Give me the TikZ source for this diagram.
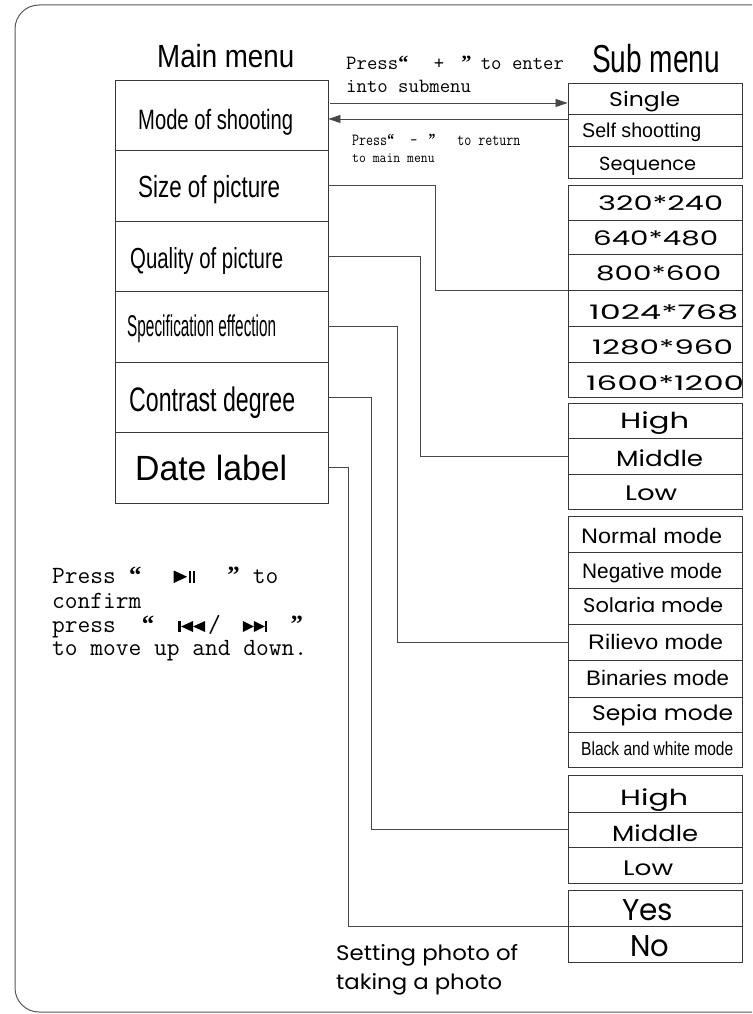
\documentclass[tikz,border=0pt]{standalone}
\usepackage{fontspec}
\usepackage{graphicx}
\usetikzlibrary{arrows.meta}
\newfontfamily\ars{Liberation Sans}
\newfontfamily\gth{Poppins}
\newfontfamily\lser{Liberation Serif}
\newcommand\fs[1]{\fontsize{#1}{#1}\selectfont}
\newcommand\oq{\makebox[0.525em]{\lser\bfseries “}}
\newcommand\cq{\makebox[0.525em]{\lser\bfseries ”}}
\newsavebox\fitbox
\newcommand\fitw[2]{\sbox\fitbox{#2}\pgfmathsetmacro\fitr{#1/\the\wd\fitbox}\scalebox{\fitr}[1]{\usebox\fitbox}}
\newcommand\symPP{\tikz[baseline=0pt,x=1pt,y=1pt]{\fill (0,0)--(0,12.5)--(13.5,6.25)--cycle; \fill (15.5,0) rectangle (17.5,12.5); \fill (19.3,0) rectangle (21.3,12.5);}}
\newcommand\symPrev{\tikz[baseline=0pt,x=1pt,y=1pt]{\fill (0,0) rectangle (2.6,11); \fill (2.6,5.5)--(14.6,11)--(14.6,0)--cycle; \fill (14.6,5.5)--(26.6,11)--(26.6,0)--cycle;}}
\newcommand\symNext{\tikz[baseline=0pt,x=1pt,y=1pt]{\fill (0,0)--(0,11)--(11,5.5)--cycle; \fill (11,0)--(11,11)--(22,5.5)--cycle; \fill (22,0) rectangle (24.6,11);}}
\tikzset{
  linec/.style={draw=black!78, line width=0.9pt},
  mrow/.style={linec, minimum width=213pt, minimum height=70.5pt, inner sep=0pt},
  scell/.style={linec, minimum width=174pt, inner sep=0pt},
  conn/.style={draw=black!72, line width=0.8pt},
  arr/.style={conn, -{Triangle[length=12pt,width=8pt]}},
  tx/.style={inner sep=0pt, anchor=base west, text=black},
  border/.style={draw=black!65, line width=1pt, rounded corners=24pt}
}
\newcommand\cell[3]{\node[scell, minimum height={(#3-#2)*1pt}] (#1) at (655,{(#2+#3)/2}) {};}
\begin{document}
\begin{tikzpicture}[x=1pt,y=-1pt]
\useasboundingbox (0,0) rectangle (752,1014);
\draw[border] (752,5) -- (15,5) -- (15,1012) -- (752,1012);

% titles
\node[tx] (tmain) at (157,68) {\fitw{137}{\ars\fs{32}Main menu}};
\node[tx] (tsub) at (592,73) {\fitw{128}{\ars\fs{39}Sub menu}};

% main menu rows
\node[mrow] (m1) at (221.5,115.25) {};
\node[mrow] (m2) at (221.5,185.75) {};
\node[mrow] (m3) at (221.5,256.25) {};
\node[mrow] (m4) at (221.5,326.75) {};
\node[mrow] (m5) at (221.5,397.25) {};
\node[mrow] (m6) at (221.5,467.75) {};
\node[tx] (m1t) at (138,130) {\fitw{155}{\ars\fs{28}Mode of  shooting}};
\node[tx] (m2t) at (138,197) {\fitw{142}{\ars\fs{30.5}Size of picture}};
\node[tx] (m3t) at (130,268) {\fitw{153}{\ars\fs{29}Quality of picture}};
\node[tx] (m4t) at (127,336) {\fitw{149}{\ars\fs{30}Specification  effection}};
\node[tx] (m5t) at (129,411) {\fitw{166}{\ars\fs{34}Contrast degree}};
\node[tx] (m6t) at (135,480) {\fitw{152}{\ars\fs{35}Date label}};

% sub menu cells
\cell{g1a}{83}{114}\cell{g1b}{114}{146}\cell{g1c}{146}{178}
\cell{g2a}{185}{220}\cell{g2b}{220}{254}\cell{g2c}{254}{290}
\cell{g2d}{290}{326}\cell{g2e}{326}{362}\cell{g2f}{362}{397}
\cell{g3a}{403}{438}\cell{g3b}{438}{474}\cell{g3c}{474}{509}
\cell{g4a}{516}{552}\cell{g4b}{552}{588}\cell{g4c}{588}{624}
\cell{g4d}{624}{660}\cell{g4e}{660}{697}\cell{g4f}{697}{732}\cell{g4g}{732}{767}
\cell{g5a}{775}{812}\cell{g5b}{812}{847}\cell{g5c}{847}{883}
\cell{g6a}{890}{926}\cell{g6b}{926}{962}

% sub menu texts
\node[tx] (t1a) at (609,107) {\fitw{71}{\gth\fs{20}Single}};
\node[tx] (t1b) at (582,137) {\fitw{119}{\ars\fs{20}Self shootting}};
\node[tx] (t1c) at (599,170) {\fitw{97}{\gth\fs{19}Sequence}};
\node[tx] (t2a) at (598,210) {\fitw{125}{\gth\fs{20}320*240}};
\node[tx] (t2b) at (593,245) {\fitw{125}{\gth\fs{20}640*480}};
\node[tx] (t2c) at (596,280) {\fitw{125}{\gth\fs{20}800*600}};
\node[tx] (t2d) at (589,319) {\fitw{149}{\gth\fs{20}1024*768}};
\node[tx] (t2e) at (592,354) {\fitw{141}{\gth\fs{20}1280*960}};
\node[tx] (t2f) at (586,390) {\fitw{158}{\gth\fs{20}1600*1200}};
\node[tx] (t3a) at (620,428) {\fitw{69}{\gth\fs{22}High}};
\node[tx] (t3b) at (616,466) {\fitw{87}{\gth\fs{22}Middle}};
\node[tx] (t3c) at (625,500) {\fitw{52}{\gth\fs{21}Low}};
\node[tx] (t4a) at (581,543) {\fitw{141}{\ars\fs{21}Normal mode}};
\node[tx] (t4b) at (582,578) {\fitw{140}{\ars\fs{21}Negative mode}};
\node[tx] (t4c) at (583,612) {\fitw{140}{\gth\fs{20}Solaria mode}};
\node[tx] (t4d) at (588,649) {\fitw{135}{\ars\fs{21}Rilievo mode}};
\node[tx] (t4e) at (586,685) {\fitw{143}{\ars\fs{21}Binaries mode}};
\node[tx] (t4f) at (592,720) {\fitw{141}{\gth\fs{21}Sepia mode}};
\node[tx] (t4g) at (581,755) {\fitw{152}{\ars\fs{19}Black and white mode}};
\node[tx] (t5a) at (620,805) {\fitw{68}{\gth\fs{22}High}};
\node[tx] (t5b) at (612,841) {\fitw{86}{\gth\fs{22}Middle}};
\node[tx] (t5c) at (623,875) {\fitw{50}{\gth\fs{21}Low}};
\node[tx] (t6a) at (622,920) {\fitw{51}{\gth\fs{30}Yes}};
\node[tx] (t6b) at (630,956) {\fitw{39}{\gth\fs{30}No}};

% arrows between menus
\coordinate (a1s) at (330,103);
\draw[arr] (a1s) -- (a1s -| g1a.west);
\coordinate (a2s) at (568,119);
\draw[arr] (a2s) -- (a2s -| m1.east);
\node[tx] (p1) at (346,70) {\ttfamily\fs{20.2}Press\oq\hspace{25pt}+\hspace{17pt}\cq\hspace{9pt}to enter};
\node[tx] (p2) at (346,93) {\ttfamily\fs{20.2}into submenu};
\node[tx] (p3) at (352,146) {\scalebox{0.8}[1]{\ttfamily\fs{17}Press\oq\hspace{20pt}-\hspace{14pt}\cq\hspace{27pt}to return}};
\node[tx] (p4) at (352,162) {\scalebox{0.92}[1]{\ttfamily\fs{14.5}to main menu}};

% connectors
\draw[conn] (m2.east) -- ++(107,0) |- (g2c.south west);
\draw[conn] (m3.east) -- ++(92,0) |- (g3b.west);
\draw[conn] (m4.east) -- ++(69,0) |- (g4d.west);
\draw[conn] (m5.east) -- ++(43,0) |- (g5b.west);
\draw[conn] (m6.east) -- ++(20,0) |- (g6a.south west);

% instructions
\node[tx] (l1) at (52,583) {\ttfamily\fs{24.76}Press \oq\hspace{32pt}\symPP\hspace{32pt}\cq{} to};
\node[tx] (l2) at (52,608) {\ttfamily\fs{24.76}confirm};
\node[tx] (l3) at (52,632) {\ttfamily\fs{24.76}press\ \ \oq\hspace{24pt}\symPrev\hspace{3pt}/\hspace{22pt}\symNext\hspace{23pt}\cq};
\node[tx] (l4) at (52,655) {\ttfamily\fs{24.76}to move up and down.};

\node[tx] (s1) at (336,960) {\fitw{182}{\gth\fs{21}Setting photo of}};
\node[tx] (s2) at (336,989) {\fitw{166}{\gth\fs{21}taking a photo}};
\end{tikzpicture}
\end{document}
